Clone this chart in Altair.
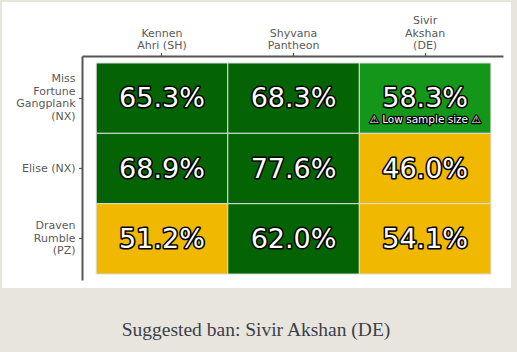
import altair as alt
import pandas as pd

# ---- data ----
rows = ["Miss\nFortune\nGangplank\n(NX)", "Elise (NX)", "Draven\nRumble\n(PZ)"]
cols = ["Kennen\nAhri (SH)", "Shyvana\nPantheon", "Sivir\nAkshan\n(DE)"]
win_rates = [
    [65.3, 68.3, 58.3],
    [68.9, 77.6, 46.0],
    [51.2, 62.0, 54.1],
]
tiers = [
    ["strong", "strong", "good"],
    ["strong", "strong", "weak"],
    ["weak", "strong", "weak"],
]
notes = [
    ["", "", "⚠ Low sample size ⚠"],
    ["", "", ""],
    ["", "", ""],
]
caption = ["Suggested ban: Sivir Akshan (DE)"]
tier_domain = ["strong", "good", "weak"]
tier_colors = ["#046404", "#14961a", "#f0b800"]

records = []
for i, r in enumerate(rows):
    for j, c in enumerate(cols):
        records.append({
            "row": r,
            "col": c,
            "value": win_rates[i][j],
            "tier": tiers[i][j],
            "note": notes[i][j],
        })
df = pd.DataFrame(records)

W, H = 421, 224
FONT = "DejaVu Sans"
LH = 12.5
LABEL_COLOR = "#5a5a5a"

axis_common = dict(
    title=None,
    domainColor="#555555",
    domainWidth=2,
    tickColor="#555555",
    tickWidth=1.2,
    tickSize=3.5,
    labelColor=LABEL_COLOR,
    labelFont=FONT,
    labelFontSize=11,
    grid=False,
    zindex=1,
)

# top labels: bottom-aligned multi-line blocks (pad to 3 lines at the top)
x_label_expr = (
    "split(slice('\\n\\n', 0, 3 - length(split(datum.value, '\\n'))) + datum.value, '\\n')"
)

x_enc = alt.X(
    "col:N", sort=cols,
    scale=alt.Scale(paddingInner=0, paddingOuter=0.1, align=0.54),
    axis=alt.Axis(orient="top", labelAngle=0, labelPadding=27,
                  labelBaseline="bottom", labelLineHeight=LH,
                  labelExpr=x_label_expr, **axis_common),
)
y_enc = alt.Y(
    "row:N", sort=rows,
    scale=alt.Scale(paddingInner=0, paddingOuter=0.092, align=0.54),
    axis=alt.Axis(orient="left", labels=False, **axis_common),
)

base = alt.Chart(df).transform_calculate(
    label="format(datum.value, '.1f') + '%'"
).encode(x=x_enc, y=y_enc)

card = alt.Chart(alt.Data(values=[{}])).mark_rect(fill="white").encode(
    x=alt.value(-80), x2=alt.value(429), y=alt.value(-54), y2=alt.value(232)
)

cells = base.mark_rect(stroke="#dcdcdc", strokeWidth=1).encode(
    color=alt.Color("tier:N", scale=alt.Scale(domain=tier_domain, range=tier_colors), legend=None)
)

txt_kw = dict(font=FONT, fontSize=27, baseline="middle", align="center", dy=1)
text_halo = base.mark_text(fill="black", stroke="black", strokeWidth=3.2,
                           strokeJoin="round", **txt_kw).encode(text="label:N")
text_fill = base.mark_text(fill="white", **txt_kw).encode(text="label:N")

note_kw = dict(font=FONT, fontSize=10.5, baseline="middle", align="center", dy=22)
note_base = base.transform_filter("datum.note != ''")
note_halo = note_base.mark_text(fill="black", stroke="black", strokeWidth=2.5,
                                strokeJoin="round", **note_kw).encode(text="note:N")
note_fill = note_base.mark_text(fill="white", **note_kw).encode(text="note:N")

# row labels (multi-line, right-aligned, block centred on each tick)
row_df = pd.DataFrame({"row": rows})
row_label_layers = []
for r in rows:
    n_lines = r.count("\n") + 1
    row_label_layers.append(
        alt.Chart(row_df).transform_filter(alt.datum.row == r).mark_text(
            font=FONT, fontSize=11, color=LABEL_COLOR, align="right",
            baseline="middle", lineBreak="\n", lineHeight=LH,
            dy=-(n_lines - 1) * LH / 2,
        ).encode(y=y_enc, x=alt.value(-6.5), text="row:N")
    )

cap = alt.Chart(pd.DataFrame({"caption": caption})).mark_text(
    font="Liberation Serif", fontSize=19.5, color="#3c3f48",
    align="center", baseline="alphabetic"
).encode(x=alt.value(174), y=alt.value(280), text="caption:N")

chart = alt.layer(
    card, cells, text_halo, text_fill, note_halo, note_fill, *row_label_layers, cap
).properties(
    width=W, height=H,
    padding={"left": 82, "top": 56, "right": 14, "bottom": 72},
    autosize=alt.AutoSizeParams(type="none"),
).configure(background="#e8e5de").configure_view(strokeWidth=0)

chart.save("out.html", embed_options={"renderer": "svg", "actions": False})
